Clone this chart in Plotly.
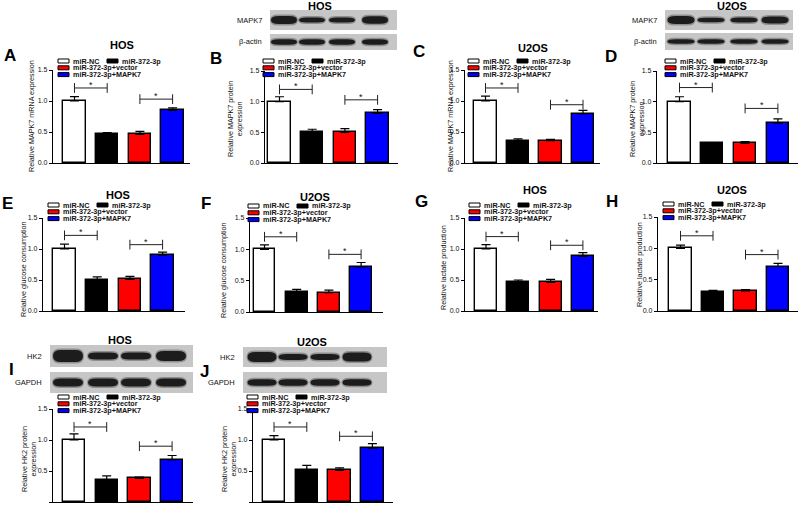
import plotly.graph_objects as go

W, H = 800, 505
FONT = "Liberation Sans, Arial, sans-serif"

# ---------------- data ----------------
groups = ["miR-NC", "miR-372-3p", "miR-372-3p+vector", "miR-372-3p+MAPK7"]
bar_colors = ["#ffffff", "#000000", "#ff0000", "#0000ff"]
ytick_vals = [0.0, 0.5, 1.0, 1.5]

A_vals = [1.00, 0.46, 0.46, 0.85]; A_err = [0.07, 0.03, 0.05, 0.04]; A_sig = [1.21, 1.03]
B_vals = [1.00, 0.51, 0.50, 0.81]; B_err = [0.08, 0.04, 0.06, 0.06]; B_sig = [1.20, 1.03]
C_vals = [1.00, 0.36, 0.36, 0.79]; C_err = [0.08, 0.03, 0.02, 0.06]; C_sig = [1.21, 0.94]
D_vals = [1.00, 0.32, 0.32, 0.65]; D_err = [0.08, 0.01, 0.03, 0.07]; D_sig = [1.23, 0.89]
E_vals = [1.00, 0.50, 0.51, 0.90]; E_err = [0.08, 0.05, 0.05, 0.05]; E_sig = [1.22, 1.07]
F_vals = [1.00, 0.32, 0.31, 0.72]; F_err = [0.07, 0.04, 0.04, 0.07]; F_sig = [1.20, 0.92]
G_vals = [1.00, 0.46, 0.46, 0.88]; G_err = [0.07, 0.04, 0.05, 0.06]; G_sig = [1.20, 1.06]
H_vals = [1.00, 0.31, 0.32, 0.71]; H_err = [0.05, 0.02, 0.02, 0.05]; H_sig = [1.20, 0.90]
I_vals = [1.00, 0.36, 0.38, 0.68]; I_err = [0.10, 0.06, 0.02, 0.07]; I_sig = [1.21, 0.90]
J_vals = [1.00, 0.52, 0.51, 0.87]; J_err = [0.07, 0.07, 0.04, 0.07]; J_sig = [1.21, 1.06]

# ---------------- layout (pixels) ----------------
panels = [
    dict(letter="A", title="HOS", ylabel="Relative MAPK7 mRNA expression", vals=A_vals, err=A_err, sig=A_sig,
         ax=(53, 190, 74.5, 32.7, 70, 163), let=(10, 56), tit=(122, 45), yl=(32, 116), leg=(58, 61)),
    dict(letter="B", title="HOS", ylabel="Relative MAPK7 protein<br>expression", vals=B_vals, err=B_err, sig=B_sig,
         ax=(265, 398, 279.5, 32.7, 71, 163), let=(216, 59), tit=(320, 6), yl=(235, 119), leg=(263, 61),
         blot=dict(box=(270, 397), rows=[("MAPK7", 10, 30, [8, 5, 5, 7.5]), ("β-actin", 34, 50, [5.5, 5.5, 5.5, 5.5])],
                   lanes=[284, 312, 342, 375], bw=26)),
    dict(letter="C", title="U2OS", ylabel="Relative MAPK7 mRNA expression", vals=C_vals, err=C_err, sig=C_sig,
         ax=(465, 600, 485.5, 32.5, 70, 163), let=(419, 52), tit=(533, 48), yl=(451, 116), leg=(468, 61)),
    dict(letter="D", title="U2OS", ylabel="Relative MAPK7 protein<br>expression", vals=D_vals, err=D_err, sig=D_sig,
         ax=(657, 798, 679.5, 32.8, 71, 163), let=(611, 57), tit=(732, 6), yl=(637, 119), leg=(665, 61),
         blot=dict(box=(665, 793), rows=[("MAPK7", 10, 30, [8, 4.5, 5, 7]), ("β-actin", 33, 50, [4.5, 4.5, 4.5, 4.5])],
                   lanes=[681, 711, 744, 775], bw=27)),
    dict(letter="E", title="HOS", ylabel="Relative glucose consumption", vals=E_vals, err=E_err, sig=E_sig,
         ax=(43, 185, 64.5, 32.7, 218, 311), let=(7, 203), tit=(118, 195), yl=(23, 269), leg=(48, 205)),
    dict(letter="F", title="U2OS", ylabel="Relative glucose consumption", vals=F_vals, err=F_err, sig=F_sig,
         ax=(250, 383, 264.5, 32.2, 218, 312), let=(206, 203), tit=(315, 197), yl=(223, 270), leg=(248, 206)),
    dict(letter="G", title="HOS", ylabel="Relative lactate production", vals=G_vals, err=G_err, sig=G_sig,
         ax=(465, 598, 486, 32.3, 218, 311), let=(421, 201), tit=(535, 190), yl=(443, 268), leg=(469, 205)),
    dict(letter="H", title="U2OS", ylabel="Relative lactate production", vals=H_vals, err=H_err, sig=H_sig,
         ax=(658, 798, 680.5, 32.5, 217, 311), let=(612, 201), tit=(732, 190), yl=(639, 265), leg=(663, 204)),
    dict(letter="I", title="HOS", ylabel="Relative HK2 protein<br>expression", vals=I_vals, err=I_err, sig=I_sig,
         ax=(53, 193, 74, 32.7, 409, 502), let=(11, 369), tit=(120, 340), yl=(29, 459), leg=(58, 397),
         blot=dict(box=(50, 193), rows=[("HK2", 345, 367, [12, 7, 7, 10]), ("GAPDH", 372, 393, [8, 8, 8, 8])],
                   lanes=[68, 103, 136, 171], bw=30)),
    dict(letter="J", title="U2OS", ylabel="Relative HK2 protein<br>expression", vals=J_vals, err=J_err, sig=J_sig,
         ax=(253, 393, 274, 32.8, 409, 502), let=(205, 371), tit=(312, 342), yl=(229, 459), leg=(247, 397),
         blot=dict(box=(243, 387), rows=[("HK2", 347, 367, [10, 6, 6, 9]), ("GAPDH", 372, 393, [6.5, 6.5, 6.5, 6.5])],
                   lanes=[262, 293, 325, 357], bw=29)),
]


def X(px):
    return px / W


def Y(py):
    return 1 - py / H


def band_path(xc, yc, w, h):
    x0, x1 = xc - w / 2, xc + w / 2
    y0, y1 = yc - h / 2, yc + h / 2
    r = min(w * 0.3, 8)
    pts = [("M", x0, yc), ("Q", x0, y0, x0 + r, y0), ("L", x1 - r, y0), ("Q", x1, y0, x1, yc),
           ("Q", x1, y1, x1 - r, y1), ("L", x0 + r, y1), ("Q", x0, y1, x0, yc)]
    s = ""
    for p in pts:
        cmd = p[0]
        coords = p[1:]
        parts = []
        for i in range(0, len(coords), 2):
            parts.append(f"{X(coords[i]):.5f},{Y(coords[i + 1]):.5f}")
        s += cmd + " " + " ".join(parts) + " "
    return s + "Z"


fig = go.Figure()
shapes = []
annotations = []
layout_axes = {}

txt = "#111111"

for i, p in enumerate(panels):
    n = i + 1
    xa = "x" if n == 1 else f"x{n}"
    ya = "y" if n == 1 else f"y{n}"
    xkey = "xaxis" if n == 1 else f"xaxis{n}"
    ykey = "yaxis" if n == 1 else f"yaxis{n}"
    x0, x1, c0, s, ytop, ybot = p["ax"]
    xr = [-(c0 - x0) / s, (x1 - c0) / s]

    fig.add_trace(go.Bar(
        x=[0, 1, 2, 3], y=p["vals"], width=0.68, xaxis=xa, yaxis=ya,
        marker=dict(color=bar_colors, line=dict(color="black", width=1.4)),
        error_y=dict(type="data", array=p["err"], arrayminus=[0, 0, 0, 0], symmetric=False,
                     color="black", thickness=1.2, width=4.5),
        showlegend=False, hoverinfo="skip"))

    for j, h in enumerate(p["sig"]):
        xs = [0, 1] if j == 0 else [2, 3]
        fig.add_trace(go.Scatter(
            x=xs, y=[h, h], xaxis=xa, yaxis=ya, mode="lines+markers",
            line=dict(color="#222222", width=1),
            marker=dict(symbol="line-ns", size=7, line=dict(color="#222222", width=1)),
            showlegend=False, hoverinfo="skip"))
        annotations.append(dict(x=(xs[0] + xs[1]) / 2, y=h, xref=xa, yref=ya, text="*",
                                showarrow=False, yanchor="bottom", yshift=-4,
                                font=dict(family=FONT, size=9, color=txt)))

    layout_axes[xkey] = dict(domain=[X(x0), X(x1)], range=xr, autorange=False, anchor=ya, showline=True,
                             linecolor="black", linewidth=1.4, showticklabels=False, ticks="",
                             showgrid=False, zeroline=False, fixedrange=True)
    layout_axes[ykey] = dict(domain=[Y(ybot), Y(ytop)], range=[0, 1.5], autorange=False, anchor=xa, showline=True,
                             linecolor="black", linewidth=1.4, tickvals=ytick_vals, tickformat=".1f",
                             ticks="outside", ticklen=3, tickwidth=1, tickcolor="black",
                             tickfont=dict(family=FONT, size=7, color=txt),
                             showgrid=False, zeroline=False, fixedrange=True)

    # panel letter
    annotations.append(dict(x=X(p["let"][0]), y=Y(p["let"][1]), xref="paper", yref="paper", text=f"<b>{p['letter']}</b>",
                            showarrow=False, xanchor="center", yanchor="middle",
                            font=dict(family=FONT, size=17, color="black")))
    # title
    annotations.append(dict(x=X(p["tit"][0]), y=Y(p["tit"][1]), xref="paper", yref="paper", text=f"<b>{p['title']}</b>",
                            showarrow=False, xanchor="center", yanchor="middle",
                            font=dict(family=FONT, size=11, color="black")))
    # y label
    annotations.append(dict(x=X(p["yl"][0]), y=Y(p["yl"][1]), xref="paper", yref="paper", text=p["ylabel"],
                            showarrow=False, xanchor="center", yanchor="middle", textangle=-90,
                            font=dict(family=FONT, size=7.2, color=txt)))

    # legend
    lx, ly = p["leg"]
    items = [(0, 0, 0), (49, 0, 1), (0, 6.8, 2), (0, 13.6, 3)]
    for dx, dy, k in items:
        bx, by = lx + dx, ly + dy
        shapes.append(dict(type="rect", xref="paper", yref="paper",
                           x0=X(bx), x1=X(bx + 11), y0=Y(by + 2), y1=Y(by - 2),
                           fillcolor=bar_colors[k], line=dict(color="black", width=1)))
        annotations.append(dict(x=X(bx + 14), y=Y(by), xref="paper", yref="paper", text=f"<b>{groups[k]}</b>",
                                showarrow=False, xanchor="left", yanchor="middle", borderpad=0,
                                font=dict(family=FONT, size=7.2, color=txt)))

    # western blot images
    if "blot" in p:
        b = p["blot"]
        bx0, bx1 = b["box"]
        for name, ry0, ry1, thick in b["rows"]:
            shapes.append(dict(type="rect", xref="paper", yref="paper", x0=X(bx0), x1=X(bx1),
                               y0=Y(ry1), y1=Y(ry0), fillcolor="#c6c6c6", line=dict(width=0), layer="below"))
            yc = (ry0 + ry1) / 2
            for lc, t in zip(b["lanes"], thick):
                shapes.append(dict(type="path", xref="paper", yref="paper", path=band_path(lc, yc, b["bw"] + 2, t + 3),
                                   fillcolor="rgba(40,40,40,0.35)", line=dict(width=0)))
                shapes.append(dict(type="path", xref="paper", yref="paper", path=band_path(lc, yc, b["bw"], t),
                                   fillcolor="#1c1c1c", line=dict(width=0)))
            annotations.append(dict(x=X(bx0 - 6), y=Y(yc), xref="paper", yref="paper", text=name,
                                    showarrow=False, xanchor="right", yanchor="middle",
                                    font=dict(family=FONT, size=7.5, color=txt)))

fig.update_layout(
    width=W, height=H,
    margin=dict(l=0, r=0, t=0, b=0, autoexpand=False),
    paper_bgcolor="white", plot_bgcolor="white",
    shapes=shapes, annotations=annotations,
    showlegend=False, bargap=0,
    font=dict(family=FONT),
    **layout_axes,
)

fig.write_html("out.html", config={"displayModeBar": False},
               post_script="document.body.style.margin='0px';document.body.style.overflow='hidden';")
